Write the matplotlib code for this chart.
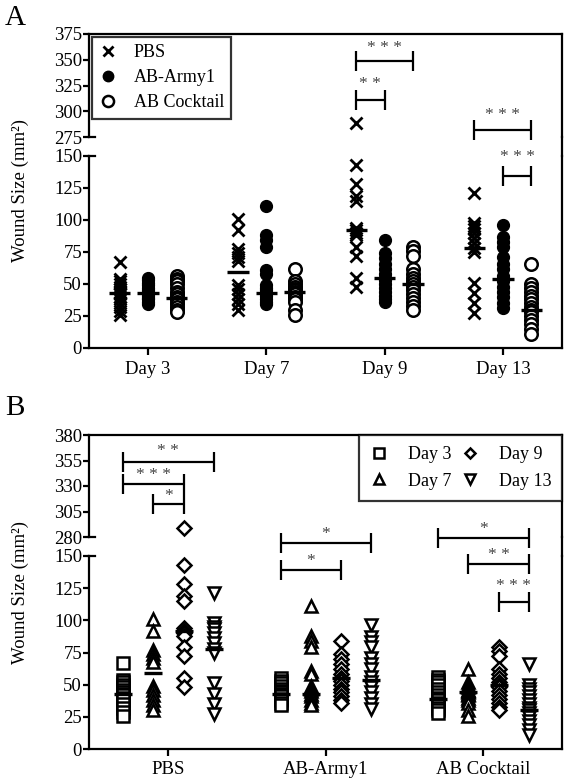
import matplotlib
matplotlib.use("Agg")
import matplotlib.pyplot as plt
from matplotlib.lines import Line2D
import numpy as np

plt.rcParams['font.family'] = ['Liberation Serif', 'DejaVu Serif']

# ---------------- data ----------------
days = ["Day 3", "Day 7", "Day 9", "Day 13"]
treatments = ["PBS", "AB-Army1", "AB Cocktail"]

pbs_d3 = [67, 54, 52, 50, 48, 46, 44, 43, 42, 40, 38, 35, 32, 29, 26]
army_d3 = [55, 53, 51, 49, 47, 45, 44, 43, 42, 41, 39, 38, 36, 34]
cock_d3 = [56, 54, 52, 50, 47, 44, 42, 40, 39, 38, 36, 34, 32, 30, 28]

pbs_d7 = [101, 92, 77, 74, 71, 68, 49, 46, 42, 38, 34, 30]
army_d7 = [111, 88, 84, 79, 61, 58, 49, 47, 45, 43, 41, 38, 36, 34]
cock_d7 = [62, 52, 50, 48, 46, 45, 44, 43, 42, 40, 38, 36, 30, 26]

pbs_d9 = [289, 143, 128, 119, 115, 94, 92, 90, 88, 79, 72, 55, 48]
army_d9 = [84, 74, 70, 66, 62, 58, 55, 53, 50, 47, 44, 41, 38, 36]
cock_d9 = [79, 76, 72, 62, 58, 55, 52, 50, 48, 45, 42, 39, 36, 33, 30]

pbs_d13 = [121, 98, 95, 93, 90, 86, 82, 78, 75, 51, 43, 35, 27]
army_d13 = [96, 87, 83, 79, 71, 66, 62, 56, 52, 48, 44, 40, 35, 31]
cock_d13 = [66, 50, 47, 44, 41, 38, 35, 32, 30, 28, 25, 22, 19, 15, 11]

# central (median) lines: rows = day, cols = treatment
center_d3 = [43, 43, 39]
center_d7 = [59, 43, 44]
center_d9 = [92, 55, 50]
center_d13 = [78, 54, 30]

data = [[pbs_d3, army_d3, cock_d3],
        [pbs_d7, army_d7, cock_d7],
        [pbs_d9, army_d9, cock_d9],
        [pbs_d13, army_d13, cock_d13]]
centers = [center_d3, center_d7, center_d9, center_d13]

# significance brackets: (group, series_i, series_j, y_line, y_text, label, upper_axis?)
brackets_A = [
    (2, 0, 2, 349, 361, "* * *", True),
    (2, 0, 1, 311, 326, "* *", True),
    (3, 0, 2, 282, 296, "* * *", True),
    (3, 1, 2, 134, 149, "* * *", False),
]
brackets_B = [
    (0, 0, 3, 354, 364, "* *", True),
    (0, 0, 2, 332, 341, "* * *", True),
    (0, 1, 2, 312, 320, "*", True),
    (1, 0, 3, 160, 167, "*", False),
    (1, 0, 2, 139, 146, "*", False),
    (2, 0, 3, 164, 171, "*", False),
    (2, 1, 3, 144, 151, "* *", False),
    (2, 2, 3, 114, 127, "* * *", False),
]

# ---------------- figure ----------------
W, H = 566, 783
fig = plt.figure(figsize=(W / 100, H / 100), dpi=100)
fig.patch.set_facecolor("white")

LW = 1.6
FS = 13.5
left = 89 / W
right = 562 / W
width = right - left


def fy(p):
    return 1 - p / H


def make_pair(up_top, up_bot, lo_top, lo_bot, up_lim, up_ticks, x_lim):
    axU = fig.add_axes([left, fy(up_bot), width, fy(up_top) - fy(up_bot)])
    axL = fig.add_axes([left, fy(lo_bot), width, fy(lo_top) - fy(lo_bot)])
    axU.set_ylim(*up_lim)
    axU.set_yticks(up_ticks)
    axL.set_ylim(0, 150)
    axL.set_yticks([0, 25, 50, 75, 100, 125, 150])
    for ax in (axU, axL):
        ax.set_xlim(*x_lim)
        ax.set_facecolor("none")
        for s in ax.spines.values():
            s.set_linewidth(LW)
        ax.tick_params(axis="y", direction="out", length=4, width=LW,
                       labelsize=FS, pad=1)
        ax.tick_params(axis="x", direction="out", length=5, width=LW,
                       labelsize=FS, pad=4)
    axU.spines["bottom"].set_visible(False)
    axL.spines["top"].set_visible(False)
    axU.set_xticks([])
    # continuous right border across the break
    fig.add_artist(Line2D([right, right], [fy(lo_top), fy(up_bot)],
                          color="black", lw=LW, transform=fig.transFigure))
    # small caps at the break on the left axis
    axU.plot([0, 0.012], [up_lim[0], up_lim[0]], color="black", lw=LW,
             transform=axU.get_yaxis_transform(), clip_on=False)
    axL.plot([0, 0.012], [150, 150], color="black", lw=LW,
             transform=axL.get_yaxis_transform(), clip_on=False)
    return axU, axL


def draw_brackets(axU, axL, blist, xpos):
    for g, i, j, yl, yt, lab, up in blist:
        ax = axU if up else axL
        x1, x2 = xpos(g, i), xpos(g, j)
        ax.plot([x1, x2], [yl, yl], color="black", lw=LW, clip_on=False,
                solid_capstyle="butt")
        ax.plot([x1, x2], [yl, yl], ls="none", marker="|", ms=15, mew=LW,
                color="black", clip_on=False)
        ax.text((x1 + x2) / 2, yt, lab, ha="center", va="center",
                fontsize=12.5, color="#444444")


# ---------------- Panel A ----------------
axAU, axAL = make_pair(34, 137, 156, 348, (275, 375),
                       [275, 300, 325, 350, 375], (-0.5, 3.5))
offA = [-0.24, 0.0, 0.24]
styleA = [dict(marker="x", ms=8, mew=2.0, color="black", ls="none"),
          dict(marker="o", ms=8.5, mfc="black", mec="black", ls="none"),
          dict(marker="o", ms=9, mfc="white", mec="black", mew=1.8, ls="none")]
for d in range(4):
    for t in range(3):
        xs = np.full(len(data[d][t]), d + offA[t])
        for ax in (axAU, axAL):
            ax.plot(xs, data[d][t], **styleA[t], zorder=3)
        axAL.hlines(centers[d][t], d + offA[t] - 0.09, d + offA[t] + 0.09,
                    color="black", lw=2.4, zorder=4)
axAL.set_xticks(range(4))
axAL.set_xticklabels(days)

draw_brackets(axAU, axAL, brackets_A, lambda g, i: g + offA[i])

handlesA = [Line2D([], [], **{**styleA[t], "ms": styleA[t]["ms"] - 1})
            for t in range(3)]
legA = axAL.legend(handlesA, treatments, loc="upper left",
                   bbox_to_anchor=(92 / W, fy(37)), bbox_transform=fig.transFigure,
                   fontsize=13, frameon=True, fancybox=False, edgecolor="black",
                   handlelength=1.0, handletextpad=0.9, borderpad=0.4,
                   labelspacing=0.45, borderaxespad=0)
legA.get_frame().set_linewidth(LW)

fig.text(5 / W, fy(18), "A", fontsize=21, va="center", ha="left")
fig.text(20 / W, fy(191), "Wound Size (mm²)", rotation=90, fontsize=FS,
         va="center", ha="center")

# ---------------- Panel B ----------------
axBU, axBL = make_pair(435, 537, 556, 749, (280, 380),
                       [280, 305, 330, 355, 380], (-0.5, 2.5))
offB = [-0.285, -0.095, 0.1, 0.29]
markersB = ["s", "^", "D", "v"]
sizesB = [8.5, 9, 7, 9]
for t in range(3):
    for d in range(4):
        xs = np.full(len(data[d][t]), t + offB[d])
        for ax in (axBU, axBL):
            ax.plot(xs, data[d][t], ls="none", marker=markersB[d], ms=sizesB[d],
                    mfc="white", mec="black", mew=1.8, zorder=3)
        axBL.hlines(centers[d][t], t + offB[d] - 0.057, t + offB[d] + 0.057,
                    color="black", lw=2.4, zorder=4)
axBL.set_xticks(range(3))
axBL.set_xticklabels(treatments)

draw_brackets(axBU, axBL, brackets_B, lambda g, i: g + offB[i])

handlesB = [Line2D([], [], ls="none", marker=markersB[d], ms=sizesB[d] - 1.5,
                   mfc="white", mec="black", mew=1.8) for d in range(4)]
legB = axBL.legend(handlesB, days, loc="upper right", ncol=2,
                   bbox_to_anchor=(right, fy(435)), bbox_transform=fig.transFigure,
                   fontsize=13, frameon=True, fancybox=False, edgecolor="black",
                   handlelength=1.0, handletextpad=1.1, borderpad=0.6,
                   labelspacing=0.55, columnspacing=0.5, borderaxespad=0)
legB.get_frame().set_linewidth(LW)

fig.text(5 / W, fy(408), "B", fontsize=21, va="center", ha="left")
fig.text(20 / W, fy(592), "Wound Size (mm²)", rotation=90, fontsize=FS,
         va="center", ha="center")

fig.savefig("out.png", dpi=100, facecolor="white")
